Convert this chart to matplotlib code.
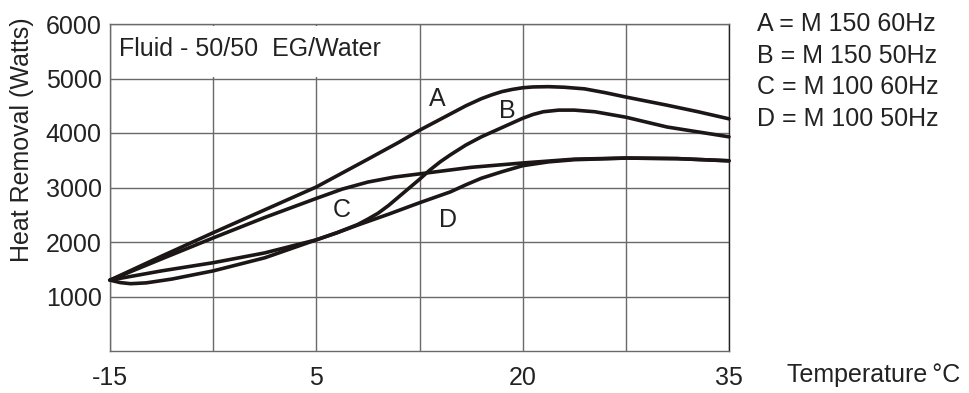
import matplotlib
matplotlib.use("Agg")
import matplotlib.pyplot as plt
from matplotlib.patches import Rectangle

plt.rcParams['font.family'] = ['Liberation Sans', 'DejaVu Sans']

# posiciones de la rejilla (cada celda = una division)
tick_labels = ["-15", "", "5", "", "20", "", "35"]
y_ticks = [1000, 2000, 3000, 4000, 5000, 6000]

# A = M 150 60Hz
a_x = [0, 0.5, 1.0, 1.5, 2.0, 2.5, 2.8, 3.0, 3.15, 3.3, 3.45, 3.6, 3.7, 3.8, 3.9, 4.0, 4.1, 4.25, 4.4, 4.6, 4.8, 5.0, 5.4, 5.7, 6.0]
a_y = [1300, 1740, 2170, 2590, 3010, 3520, 3830, 4050, 4200, 4350, 4500, 4630, 4700, 4760, 4800, 4830, 4845, 4850, 4840, 4810, 4740, 4660, 4510, 4390, 4260]

# B = M 150 50Hz
b_x = [0, 0.1, 0.2, 0.35, 0.6, 1.0, 1.5, 2.0, 2.2, 2.4, 2.5, 2.6, 2.7, 2.8, 2.9, 3.0, 3.1, 3.2, 3.3, 3.45, 3.6, 3.8, 4.0, 4.1, 4.2, 4.35, 4.5, 4.7, 5.0, 5.4, 5.7, 6.0]
b_y = [1300, 1255, 1235, 1250, 1320, 1470, 1710, 2040, 2170, 2320, 2420, 2530, 2670, 2830, 2990, 3150, 3320, 3470, 3600, 3780, 3930, 4100, 4270, 4340, 4390, 4420, 4420, 4390, 4290, 4110, 4020, 3930]

# C = M 100 60Hz
c_x = [0, 0.5, 1.0, 1.5, 2.0, 2.25, 2.5, 2.75, 3.0, 3.25, 3.5, 4.0, 4.5, 5.0, 5.5, 6.0]
c_y = [1300, 1690, 2075, 2450, 2800, 2970, 3100, 3190, 3250, 3310, 3370, 3450, 3520, 3540, 3530, 3490]

# D = M 100 50Hz
d_x = [0, 0.5, 1.0, 1.5, 2.0, 2.2, 2.4, 2.7, 3.0, 3.3, 3.45, 3.6, 3.8, 4.0, 4.25, 4.5, 5.0, 5.5, 6.0]
d_y = [1300, 1470, 1620, 1800, 2040, 2170, 2310, 2510, 2720, 2920, 3050, 3170, 3290, 3400, 3470, 3510, 3540, 3530, 3490]

legend_lines = ["A = M 150 60Hz", "B = M 150 50Hz", "C = M 100 60Hz", "D = M 100 50Hz"]

fs = 18
fig = plt.figure(figsize=(9.69, 3.93), dpi=100)
ax = fig.add_axes([110/969, 1 - 351/393, (729 - 110)/969, (351 - 24)/393])

ax.set_xlim(0, 6)
ax.set_ylim(0, 6000)
ax.set_xticks(range(7))
ax.set_xticklabels(tick_labels)
ax.set_yticks(y_ticks)
ax.grid(True, color="#6a6a6a", linewidth=1.0)
ax.tick_params(length=0, labelsize=fs, pad=6, labelcolor="#222222")
ax.tick_params(axis="x", pad=11)
for s in ax.spines.values():
    s.set_color("#6a6a6a")
    s.set_linewidth(1.0)
ax.spines["right"].set_color("#222222")

ax.add_patch(Rectangle((0.02, 5030), 2.84, 940, facecolor="white", edgecolor="none", zorder=2))
ax.text(0.09, 5550, "Fluid - 50/50  EG/Water", fontsize=fs, va="center", ha="left", zorder=3, color="#222222")

lc = "#1c1716"
for xs, ys in [(a_x, a_y), (b_x, b_y), (c_x, c_y), (d_x, d_y)]:
    ax.plot(xs, ys, color=lc, linewidth=2.6, solid_capstyle="round", solid_joinstyle="round", zorder=4, clip_on=False)

ax.text(3.17, 4620, "A", fontsize=fs, ha="center", va="center", zorder=5, color="#222222")
ax.text(3.85, 4400, "B", fontsize=fs, ha="center", va="center", zorder=5, color="#222222")
ax.text(2.25, 2590, "C", fontsize=fs, ha="center", va="center", zorder=5, color="#222222")
ax.text(3.28, 2400, "D", fontsize=fs, ha="center", va="center", zorder=5, color="#222222")

for i, t in enumerate(legend_lines):
    fig.text(757/969, 1 - (24 + i*31.7)/393, t, fontsize=fs, ha="left", va="center", color="#222222")

fig.text(787/969, 1 - 375/393, "Temperature\u2009°C", fontsize=fs, ha="left", va="center", color="#222222")
fig.text(22/969, 1 - 140/393, "Heat Removal (Watts)", fontsize=fs, rotation=90, ha="center", va="center", color="#222222")

fig.savefig("out.png", dpi=100)
